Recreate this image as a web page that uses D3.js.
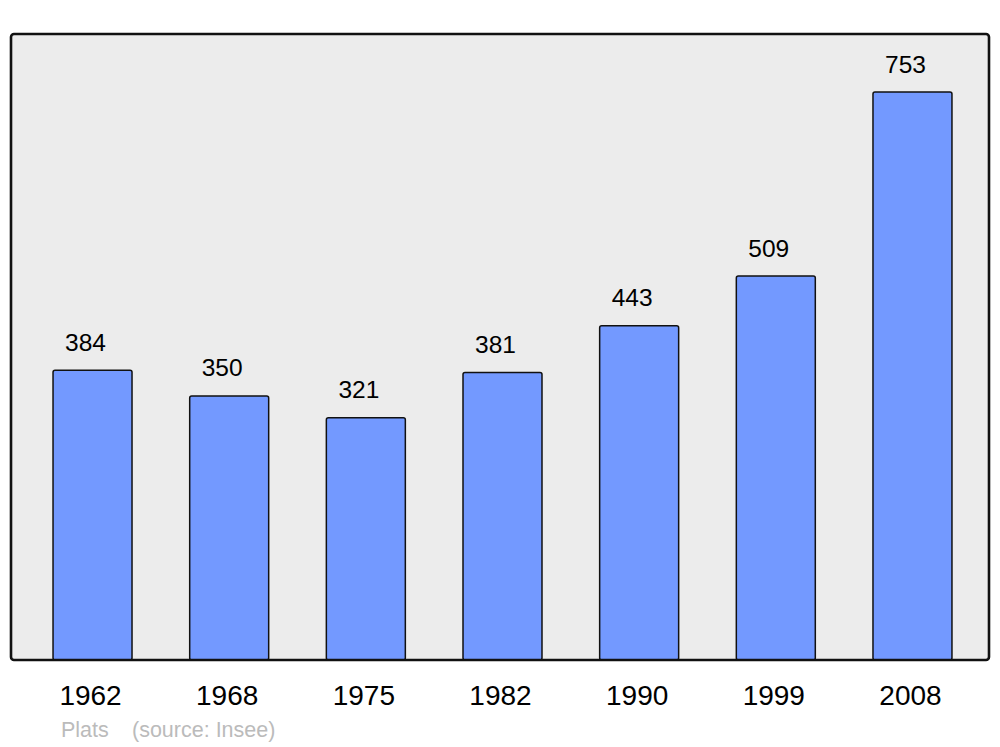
<!DOCTYPE html>
<html><head><meta charset="utf-8">
<script src="https://cdn.jsdelivr.net/npm/d3@7"></script>
<style>body{margin:0;background:#fff}svg{display:block}</style>
</head><body>
<script>
const years = ["1962","1968","1975","1982","1990","1999","2008"];
const population = [384, 350, 321, 381, 443, 509, 753];
const footerName = "Plats";
const footerSource = "(source: Insee)";

const W = 1000, H = 747;
const svg = d3.select("body").append("svg").attr("width", W).attr("height", H);

const x = d3.scaleBand().domain(years).range([24.2, 980.8]).paddingInner(0.422).paddingOuter(0.211);
const y = d3.scaleLinear().domain([0, 753]).range([660, 92]);

svg.append("rect").attr("x", 11).attr("y", 34).attr("width", 978).attr("height", 626)
  .attr("rx", 3).attr("fill", "#ececec");

svg.selectAll("rect.bar").data(years).enter().append("rect").attr("class", "bar")
  .attr("x", d => x(d)).attr("y", (d, i) => y(population[i]))
  .attr("width", x.bandwidth()).attr("height", (d, i) => y(0) - y(population[i]))
  .attr("rx", 2).attr("fill", "#7399ff").attr("stroke", "#111").attr("stroke-width", 1.5);

svg.selectAll("text.val").data(years).enter().append("text").attr("class", "val")
  .attr("x", d => x(d) + x.bandwidth() / 2 - 7)
  .attr("y", (d, i) => y(population[i]) - 19.5)
  .attr("text-anchor", "middle").attr("font-family", "Liberation Sans, Arial, sans-serif")
  .attr("font-size", 24.5).attr("fill", "#000").text((d, i) => population[i]);

svg.append("rect").attr("x", 11).attr("y", 34).attr("width", 978).attr("height", 626)
  .attr("rx", 3).attr("fill", "none").attr("stroke", "#111").attr("stroke-width", 2.6);

svg.selectAll("text.yr").data(years).enter().append("text").attr("class", "yr")
  .attr("x", d => x(d) + x.bandwidth() / 2 - 2).attr("y", 705)
  .attr("text-anchor", "middle").attr("font-family", "Liberation Sans, Arial, sans-serif")
  .attr("font-size", 28).attr("fill", "#000").text(d => d);

svg.append("text").attr("x", 61).attr("y", 737).attr("font-family", "Liberation Sans, Arial, sans-serif")
  .attr("font-size", 21.5).attr("fill", "#bbb").text(footerName);
svg.append("text").attr("x", 132).attr("y", 737).attr("font-family", "Liberation Sans, Arial, sans-serif")
  .attr("font-size", 21.5).attr("fill", "#bbb").text(footerSource);
</script>
</body></html>
